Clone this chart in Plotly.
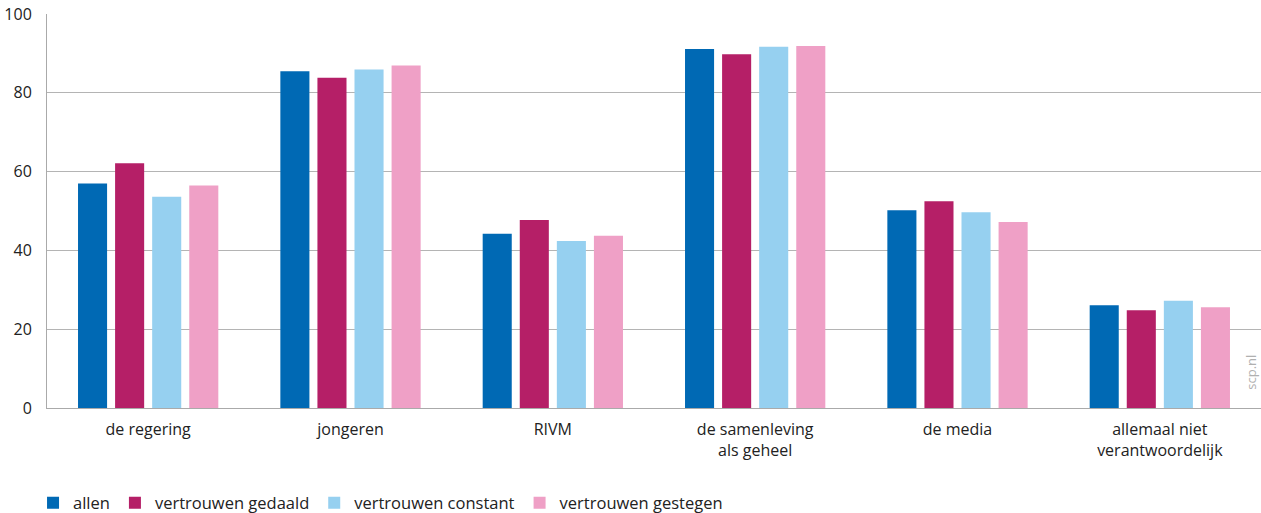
import plotly.graph_objects as go

categories = ["de regering", "jongeren", "RIVM", "de samenleving<br>als geheel", "de media", "allemaal niet<br>verantwoordelijk"]
series_names = ["allen", "vertrouwen gedaald", "vertrouwen constant", "vertrouwen gestegen"]
allen = [57.0, 85.5, 44.2, 91.1, 50.2, 26.1]
gedaald = [62.1, 83.8, 47.7, 89.8, 52.5, 24.8]
constant = [53.6, 85.9, 42.4, 91.7, 49.7, 27.2]
gestegen = [56.5, 86.9, 43.7, 91.9, 47.2, 25.6]
colors = ["#0069B4", "#B51F67", "#96D0F0", "#EFA0C6"]
y_ticks = [0, 20, 40, 60, 80, 100]

fig = go.Figure()
for name, vals, col in zip(series_names, [allen, gedaald, constant, gestegen], colors):
    fig.add_trace(go.Bar(x=categories, y=vals, name=name, marker=dict(color=col, line=dict(width=0))))

font = "Open Sans, Noto Sans, sans-serif"
fig.update_layout(
    width=1261, height=513,
    margin=dict(l=47, r=0, t=14, b=105, autoexpand=False),
    paper_bgcolor="white", plot_bgcolor="white",
    barmode="group", bargap=0.267, bargroupgap=0.216,
    font=dict(family=font, size=16, color="#222222"),
    showlegend=True,
    legend=dict(orientation="h", x=-0.0115, xanchor="left", y=-0.197, yanchor="top",
                font=dict(size=16.5, color="#222222"), itemwidth=30, traceorder="normal"),
    xaxis=dict(showgrid=False, showline=True, linecolor="#aaaaaa", linewidth=1, automargin=False,
               ticks="", tickfont=dict(size=16), ticklabelstandoff=7),
    yaxis=dict(range=[0, 100], tickvals=y_ticks, showgrid=True, gridcolor="#b4b4b4", gridwidth=1,
               showline=True, linecolor="#aaaaaa", linewidth=1, zeroline=False, automargin=False,
               ticks="", tickfont=dict(size=16), ticklabelstandoff=11),
    annotations=[dict(text="scp.nl", xref="paper", yref="paper", x=1.0, y=0.04, xshift=1,
                      xanchor="right", yanchor="bottom", textangle=-90, showarrow=False,
                      font=dict(size=13, color="#b0b0b0"))],
)
fig.write_html("out.html", config={"displayModeBar": False},
               post_script="document.body.style.margin='0';document.body.style.overflow='hidden';")
